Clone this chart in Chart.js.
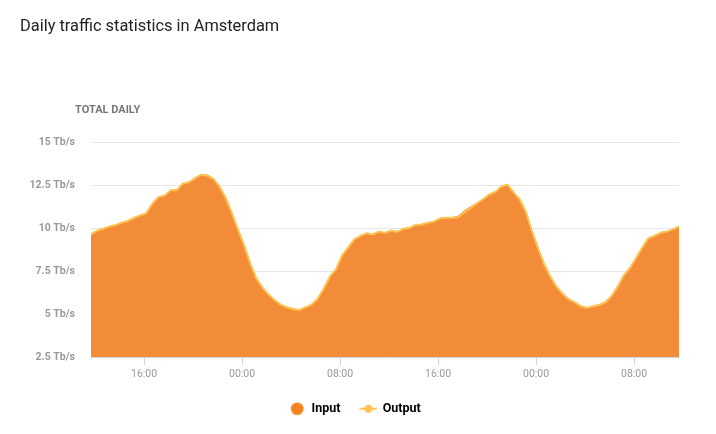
<!DOCTYPE html>
<html><head><meta charset="utf-8">
<script src="https://cdn.jsdelivr.net/npm/chart.js@4"></script>
<style>
html,body{margin:0;padding:0;background:#fff;}
#wrap{position:relative;width:716px;height:434px;overflow:hidden;}
#title{position:absolute;left:20px;top:18px;font-family:Roboto,sans-serif;font-size:16.4px;line-height:16px;color:#222;white-space:nowrap;}
#sub{position:absolute;left:75px;top:104px;font-family:Roboto,sans-serif;font-weight:bold;font-size:11px;line-height:11px;color:#777;white-space:nowrap;}
canvas{position:absolute;left:0;top:0;}
</style></head><body>
<div id="wrap">
<canvas id="c" width="716" height="434"></canvas>
<div id="title">Daily traffic statistics in Amsterdam</div>
<div id="sub">TOTAL DAILY</div>
</div>
<script>
// ---- data ----
const startTime = '11:40';
const stepMinutes = 30;
const tickLabels = ['16:00', '00:00', '08:00', '16:00', '00:00', '08:00'];
const yMin = 2.5, yMax = 15, yStep = 2.5;
const seriesNames = ['Input', 'Output'];
const input = [
  9.63, 9.84, 9.96, 10.08, 10.17, 10.31, 10.41, 10.58, 10.73, 10.85,
  11.4, 11.8, 11.88, 12.2, 12.2, 12.58, 12.66, 12.9, 13.1, 13.05,
  12.85, 12.4, 11.75, 10.85, 9.9, 8.99, 7.93, 7.06, 6.53, 6.13,
  5.8, 5.53, 5.39, 5.29, 5.23, 5.39, 5.54, 5.89, 6.47, 7.17,
  7.6, 8.41, 8.88, 9.34, 9.54, 9.69, 9.63, 9.79, 9.71, 9.85,
  9.77, 9.96, 10.0, 10.18, 10.2, 10.31, 10.37, 10.56, 10.6, 10.6,
  10.7, 11.01, 11.24, 11.44, 11.67, 11.94, 12.1, 12.41, 12.52, 12.06,
  11.67, 10.93, 9.8, 8.8, 7.89, 7.17, 6.59, 6.18, 5.85, 5.68,
  5.45, 5.35, 5.45, 5.54, 5.68, 6.05, 6.59, 7.25, 7.68, 8.26,
  8.86, 9.4, 9.54, 9.73, 9.79, 9.92, 10.08
];
const output = [
  9.63, 9.84, 9.96, 10.08, 10.17, 10.31, 10.41, 10.58, 10.73, 10.85,
  11.4, 11.8, 11.88, 12.2, 12.2, 12.58, 12.66, 12.9, 13.1, 13.05,
  12.85, 12.4, 11.75, 10.85, 9.9, 8.99, 7.93, 7.06, 6.53, 6.13,
  5.8, 5.53, 5.39, 5.29, 5.23, 5.39, 5.54, 5.89, 6.47, 7.17,
  7.6, 8.41, 8.88, 9.34, 9.54, 9.69, 9.63, 9.79, 9.71, 9.85,
  9.77, 9.96, 10.0, 10.18, 10.2, 10.31, 10.37, 10.56, 10.6, 10.6,
  10.64, 10.92, 11.17, 11.44, 11.67, 11.94, 12.1, 12.41, 12.52, 12.06,
  11.67, 10.93, 9.8, 8.8, 7.89, 7.17, 6.59, 6.18, 5.85, 5.68,
  5.45, 5.35, 5.45, 5.54, 5.68, 6.05, 6.59, 7.25, 7.68, 8.26,
  8.86, 9.4, 9.54, 9.73, 9.79, 9.92, 10.08
];

// ---- helpers ----
function toMin(s){ const p = s.split(':'); return (+p[0])*60 + (+p[1]); }
const startMin = toMin(startTime);
const tickPositions = [];
(function(){ let prev = startMin, acc = 0;
  tickLabels.forEach(t => { const m = toMin(t); acc += ((m - prev) % 1440 + 1440) % 1440; prev = m; tickPositions.push(acc); });
})();
const totalMin = stepMinutes * (input.length - 1);
const inputPts = input.map((v, i) => ({x: i * stepMinutes, y: v}));
const outputPts = output.map((v, i) => ({x: i * stepMinutes, y: v}));

const COL_IN = '#F5821F';
const COL_OUT = '#FFC24F';

function makeIcon(kind){
  const c = document.createElement('canvas');
  c.width = 18; c.height = 14;
  const g = c.getContext('2d');
  if (kind === 'in') {
    g.fillStyle = COL_IN; g.beginPath(); g.arc(9, 7, 6.3, 0, Math.PI*2); g.fill();
  } else {
    g.strokeStyle = COL_OUT; g.lineWidth = 2; g.beginPath(); g.moveTo(0.5, 7); g.lineTo(17.5, 7); g.stroke();
    g.fillStyle = COL_OUT; g.beginPath(); g.arc(9, 7, 4, 0, Math.PI*2); g.fill();
  }
  return c;
}
const icons = [makeIcon('in'), makeIcon('out')];

new Chart(document.getElementById('c'), {
  type: 'line',
  data: {
    datasets: [
      { label: seriesNames[0], data: inputPts, order: 1, fill: 'start',
        backgroundColor: 'rgba(242,128,34,0.9)', borderColor: '#EE7A1E', borderWidth: 1,
        pointRadius: 0, tension: 0 },
      { label: seriesNames[1], data: outputPts, order: 0, fill: false,
        borderColor: COL_OUT, borderWidth: 2, pointRadius: 0, tension: 0 }
    ]
  },
  options: {
    responsive: false,
    animation: false,
    layout: { padding: { top: 142, right: 6, left: 0, bottom: 9 } },
    plugins: {
      title: { display: false },
      tooltip: { enabled: false },
      legend: {
        position: 'bottom',
        labels: {
          usePointStyle: true, pointStyleWidth: 16, boxHeight: 9, padding: 20,
          color: '#333', font: { family: 'Roboto', size: 12.5, weight: 'bold' },
          generateLabels: (chart) => seriesNames.map((n, i) => ({
            text: n, pointStyle: icons[i], fillStyle: i ? COL_OUT : COL_IN,
            strokeStyle: 'transparent', lineWidth: 0, hidden: false, datasetIndex: i
          }))
        }
      }
    },
    scales: {
      x: {
        type: 'linear', min: 0, max: totalMin,
        afterBuildTicks: (axis) => { axis.ticks = tickPositions.map(v => ({value: v})); },
        afterFit: (scale) => { scale.height = 25.5; },
        grid: { display: true, drawOnChartArea: false, drawTicks: true, tickLength: 8, color: '#ccd6eb' },
        border: { display: true, color: '#ccd6eb' },
        ticks: {
          autoSkip: false, maxRotation: 0, padding: 3, color: '#999',
          font: { family: 'Roboto', size: 10.5 },
          callback: (v) => { const i = tickPositions.indexOf(v); return i >= 0 ? tickLabels[i] : ''; }
        }
      },
      y: {
        min: yMin, max: yMax,
        afterFit: (scale) => { scale.width = 91; },
        grid: { color: '#e6e6e6', drawTicks: false },
        border: { display: false },
        ticks: {
          stepSize: yStep, padding: 16, color: '#999',
          font: { family: 'Roboto', size: 10.5, weight: 'bold' },
          callback: (v) => v + ' Tb/s'
        }
      },
      yRight: {
        position: 'right', min: yMin, max: yMax,
        afterFit: (scale) => { scale.width = 31; },
        grid: { display: false, drawTicks: false },
        border: { display: false },
        ticks: { display: false }
      }
    }
  }
});
</script>
</body></html>
